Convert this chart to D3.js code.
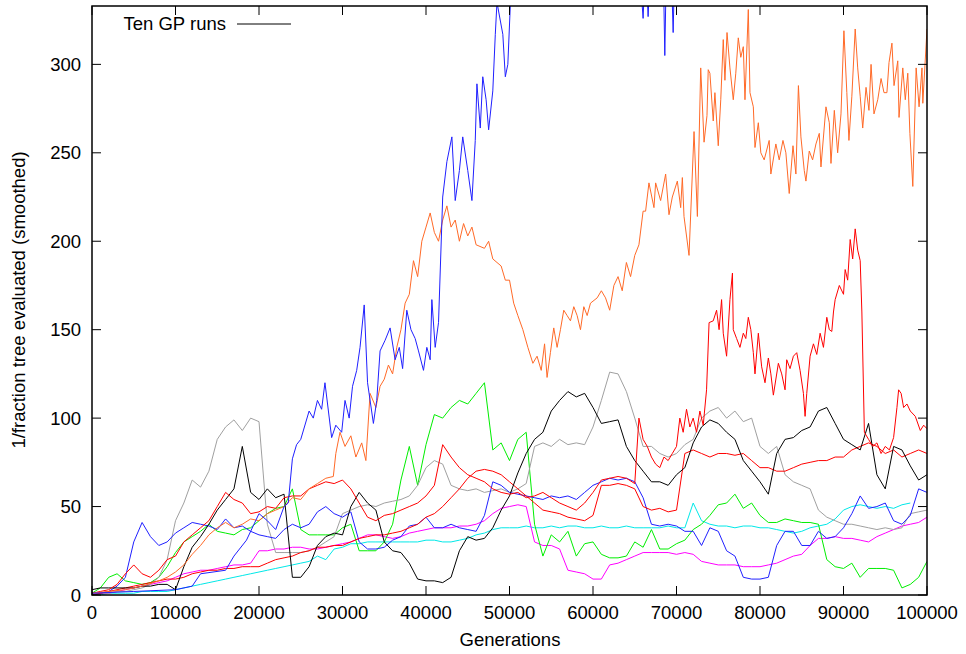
<!DOCTYPE html>
<html><head><meta charset="utf-8">
<script src="https://cdn.jsdelivr.net/npm/d3@7"></script>
<style>
body{margin:0;background:#fff;}
svg text{font-family:"Liberation Sans",Arial,Helvetica,sans-serif;fill:#000;}
</style></head>
<body><svg id="c" width="966" height="654"></svg>
<script>
// ---- axis ticks ----
const xTicks = [0,10000,20000,30000,40000,50000,60000,70000,80000,90000,100000];
const yTicks = [0,50,100,150,200,250,300];
const xLabel = "Generations";
const yLabel = "1/fraction tree evaluated (smoothed)";
const legendLabel = "Ten GP runs";

// ---- series sampled every 1000 generations (index = thousands of generations) ----
const cyan = [0,0,1,1,1,1,2,2,2,2,3,4,5,6,7,8,9,10,11,12,13,14,15,16,17,18,19,22,20,26,27,29,29,30,30,30,30,30,30,30,31,31,30,30,31,32,34,35,37,38,38,38,39,38,38,39,38,39,39,38,38,39,38,38,39,38,38,38,38,39,38,38,52,42,40,39,39,38,39,39,38,38,37,36,35,36,38,39,40,43,48,50,51,50,49,50,49,51,52];
const magenta = [0,1,1,2,3,4,5,6,7,8,10,12,13,14,14,15,16,17,17,18,25,25,26,26,27,27,26,26,27,28,29,30,32,34,34,33,32,33,35,36,37,38,38,38,39,39,40,42,46,49,50,51,50,30,28,28,26,14,13,12,9,9,17,18,20,22,24,24,24,24,23,24,23,19,18,17,17,17,16,16,16,17,18,20,22,23,28,32,32,33,32,32,31,30,33,35,37,39,40,41,44];
const blueB = [0,1,2,5,10,30,41,33,28,30,35,38,41,40,39,37,43,38,39,36,34,33,32,37,40,38,40,47,50,46,44,47,30,26,26,27,31,33,39,40,44,38,38,40,38,37,36,45,64,62,58,57,56,55,54,56,55,56,54,58,62,64,66,65,66,64,55,40,39,40,39,36,36,28,38,36,25,22,10,9,9,10,28,36,36,28,28,36,32,33,38,46,56,49,50,52,42,40,45,60,58];
const black = [3,4,4,4,4,4,5,5,6,6,3,16,27,33,40,48,54,60,84,58,54,60,55,57,10,10,16,28,33,35,34,50,58,52,48,30,25,24,18,9,8,8,7,10,25,33,31,32,38,48,56,69,80,88,92,104,110,115,112,114,106,97,98,99,84,76,70,64,64,62,68,72,86,95,99,97,92,88,76,70,64,57,80,88,89,93,95,104,106,97,88,85,82,97,68,60,84,82,73,65,68];
const gray = [0,1,1,2,2,3,4,6,10,20,42,52,65,61,70,88,95,99,93,100,98,40,24,24,24,24,25,27,30,33,46,48,50,51,50,52,53,54,56,62,72,76,74,62,60,59,60,58,59,60,58,60,63,84,86,84,88,85,86,85,95,110,126,125,115,100,84,84,80,78,80,85,88,100,104,106,100,104,98,100,84,80,84,68,64,62,60,48,44,42,40,40,39,38,37,38,37,38,46,47,48];
const green = [1,4,10,12,8,7,6,7,10,16,24,30,33,36,40,36,35,34,37,38,42,46,49,50,60,37,34,34,34,34,38,40,25,25,25,30,40,65,84,62,85,102,100,106,110,108,114,120,82,86,76,88,92,40,22,34,30,36,22,29,30,23,21,21,22,30,27,37,26,26,29,31,37,40,45,51,52,57,49,52,45,41,41,43,42,41,41,40,20,16,15,18,10,15,15,15,14,4,6,10,19];
const redB = [0,1,2,3,4,5,6,7,8,9,9,10,12,13,14,14,15,15,16,16,16,18,20,21,22,24,25,27,27,28,28,30,32,33,34,34,35,36,38,40,44,46,50,55,60,66,70,71,70,68,64,60,56,52,48,47,46,44,43,42,45,62,62,63,62,60,50,48,49,47,48,80,82,80,78,80,80,79,80,76,72,72,70,70,72,74,75,76,76,78,78,82,84,86,84,80,82,78,80,82,80];
const redAEarly = [1,2,3,6,12,17,12,10,14,20,22,30,34,38,42,50,58,54,52,46,47,50,49,55,56,56,60,62,64,63,65,60,52,44,42,45,46,48,50,52,56,62,85,78,72,68,66,64,60,58,57,58,55,56,58,55,52,50,48,52,58,65,66,67,66,63];

// ---- noisy series as [thousands of generations, value] ----
const redALate = [[65,63],[65.5,100],[66,88],[66.5,84],[67,78],[67.5,74],[68,72],[68.5,78],[69,76],[69.5,80],[70,84],[70.4,100],[70.8,92],[71.2,105],[71.6,95],[72,100],[72.4,92],[72.8,104],[73.2,96],[73.6,116],[73.9,154],[74.4,155],[74.8,161],[75.1,150],[75.4,167],[75.6,148],[76,135],[76.4,167],[76.7,182],[76.8,150],[77.2,145],[77.6,140],[78,148],[78.3,145],[78.6,157],[78.9,150],[79.2,137],[79.4,125],[79.8,148],[80.2,129],[80.6,120],[81,134],[81.3,125],[81.6,113],[82.2,131],[82.6,125],[83,116],[83.2,133],[83.6,128],[84,135],[84.4,137],[84.8,127],[85.2,114],[85.4,101],[85.6,114],[86,135],[86.4,142],[86.8,136],[87.2,148],[87.6,140],[88,157],[88.3,150],[88.6,149],[88.8,160],[89,167],[89.5,175],[90,170],[90.2,184],[90.5,178],[90.8,201],[91.1,190],[91.4,207],[91.7,195],[92,189],[92.2,160],[92.5,92],[93,88],[93.5,84],[94,86],[94.5,80],[95,84],[95.5,82],[96,89],[96.4,106],[96.6,116],[96.9,114],[97.2,106],[97.6,108],[98,104],[98.6,101],[99.2,93],[99.6,96],[100,94]];
const blueA = [[0,1],[5,2],[10,3],[12,5],[13,12],[16,14],[17,22],[18.5,31],[20,46],[21,42],[22,37],[23,50],[23.5,52],[24,77],[24.5,85],[25,88],[26,104],[26.5,100],[27,110],[27.5,105],[27.9,120],[28.7,89],[29.2,96],[29.9,92],[30.3,110],[30.8,100],[31.2,118],[31.7,127],[32.1,140],[32.6,164],[33,120],[33.7,97],[34.1,110],[34.5,138],[35.1,144],[35.7,151],[36.3,133],[36.8,140],[37.2,128],[37.7,161],[38.2,150],[38.7,145],[39.1,138],[39.7,127],[40.1,140],[40.5,133],[40.7,167],[41.1,140],[41.5,154],[42,225],[42.5,245],[43.1,259],[43.5,223],[44,240],[44.4,259],[45,240],[45.5,223],[45.9,257],[46.1,289],[46.5,264],[46.8,293],[47.2,280],[47.5,263],[48,285],[48.3,317],[48.5,335],[49.2,317],[49.5,293],[49.8,300],[50.2,345],[52,380],[65.5,360],[66,326],[66.3,360],[66.6,327],[67,370],[68.4,360],[68.6,305],[68.8,360],[69.4,350],[69.6,318],[69.8,360],[71,400],[100,400]];
const orange = [[0,1],[2,2],[4,3],[6,5],[8,8],[9,10],[10,13],[11,17],[12,23],[13,28],[14,34],[15,38],[16,41],[17,38],[18,40],[19,43],[20,42],[21,46],[22,48],[23,50],[24,55],[25,54],[26,60],[27,63],[28,66],[28.9,67],[29.2,80],[29.7,92],[30.3,84],[31,90],[31.6,78],[32.3,86],[32.8,76],[33.3,114],[34,106],[34.5,118],[35,122],[35.5,130],[36,125],[36.5,140],[37,150],[37.5,165],[38,170],[38.5,189],[39,180],[39.5,200],[40,208],[40.5,216],[41,205],[41.5,200],[42,212],[42.5,220],[43,208],[43.5,212],[44,200],[44.5,210],[45,203],[45.5,208],[46,198],[47,196],[47.5,200],[48,190],[49,186],[49.5,178],[50,178],[50.5,165],[51,158],[51.6,150],[52.2,140],[52.8,131],[53.3,135],[53.8,127],[54.2,142],[54.5,123],[54.9,137],[55.3,151],[55.7,140],[56.1,150],[56.5,161],[56.9,158],[57.3,155],[57.7,163],[58.1,158],[58.5,150],[58.9,163],[59.3,158],[59.7,165],[60.5,168],[61,172],[61.5,168],[62,161],[62.5,175],[63,180],[63.5,172],[64,188],[64.5,180],[65,192],[65.5,198],[66,217],[66.3,217],[66.7,233],[67.3,219],[67.5,233],[68.1,223],[68.7,238],[69.1,215],[69.5,225],[70.1,234],[70.5,219],[70.7,236],[70.9,214],[71.5,192],[72.1,262],[72.5,214],[72.9,298],[73.3,256],[73.65,271],[73.8,297],[74,295],[74.4,268],[74.6,284],[75,254],[75.3,280],[75.6,314],[75.8,291],[76.05,318],[76.4,298],[76.8,280],[77.1,295],[77.4,315],[77.7,304],[78,310],[78.2,280],[78.6,331],[78.8,284],[79.2,276],[79.4,253],[79.8,267],[80.1,250],[80.5,246],[81.1,257],[81.3,238],[81.9,255],[82.3,246],[82.75,257],[83.1,250],[83.5,227],[83.95,254],[84.3,238],[84.6,288],[84.9,259],[85.3,240],[85.5,234],[85.9,251],[86.3,246],[86.7,255],[87.1,261],[87.3,242],[87.9,276],[88.3,267],[88.5,244],[88.9,274],[89.3,250],[89.7,272],[90.05,319],[90.4,284],[90.65,257],[91,282],[91.4,320],[91.7,298],[92,282],[92.3,264],[92.7,287],[93.05,274],[93.3,300],[93.65,272],[94.1,280],[94.5,292],[94.85,284],[95.2,284],[95.45,301],[95.8,312],[96.05,288],[96.5,302],[96.65,270],[97.1,298],[97.4,280],[97.7,295],[97.95,261],[98.3,231],[98.7,298],[99.05,276],[99.4,298],[99.5,278],[100,320]];

const colors = {cyan:"#00e8e8", magenta:"#ff00ff", blueB:"#2020ff", black:"#000000", gray:"#a0a0a0", green:"#00ee00", redB:"#ff0000", redA:"#ff0000", blueA:"#2020ff", orange:"#ff6a28"};

// ---- layout ----
const svg = d3.select("#c");
const L = 92, R = 927, T = 6, B = 595;
const x = d3.scaleLinear().domain([0,100000]).range([L,R]);
const y = d3.scaleLinear().domain([0,333]).range([B,T]);

svg.append("defs").append("clipPath").attr("id","clip")
  .append("rect").attr("x",L).attr("y",T).attr("width",R-L).attr("height",B-T);

const gridSeries = (arr) => arr.map((v,i)=>[i,v]);
const line = d3.line().x(d=>x(d[0]*1000)).y(d=>y(d[1]));

const series = [
  ["cyan", gridSeries(cyan)],
  ["magenta", gridSeries(magenta)],
  ["green", gridSeries(green)],
  ["gray", gridSeries(gray)],
  ["blueB", gridSeries(blueB)],
  ["redB", gridSeries(redB)],
  ["black", gridSeries(black)],
  ["redA", gridSeries(redAEarly).concat(redALate.slice(1))],
  ["orange", orange],
  ["blueA", blueA]
];

const g = svg.append("g").attr("clip-path","url(#clip)");
series.forEach(([name,data])=>{
  g.append("path").attr("d",line(data)).attr("fill","none")
   .attr("stroke",colors[name]).attr("stroke-width",1).attr("stroke-linejoin","round");
});

// ---- frame and ticks (gnuplot style: inward, mirrored) ----
const tl = 9, fs = 18.5;
const ax = svg.append("g");
xTicks.forEach(t=>{
  ax.append("line").attr("x1",x(t)).attr("x2",x(t)).attr("y1",B).attr("y2",B-tl).attr("stroke","#000");
  ax.append("line").attr("x1",x(t)).attr("x2",x(t)).attr("y1",T).attr("y2",T+tl).attr("stroke","#000");
  ax.append("text").attr("x",x(t)).attr("y",619).attr("text-anchor","middle").attr("font-size",fs).text(t);
});
yTicks.forEach(t=>{
  ax.append("line").attr("x1",L).attr("x2",L+tl).attr("y1",y(t)).attr("y2",y(t)).attr("stroke","#000");
  ax.append("line").attr("x1",R).attr("x2",R-tl).attr("y1",y(t)).attr("y2",y(t)).attr("stroke","#000");
  ax.append("text").attr("x",81).attr("y",y(t)+6.5).attr("text-anchor","end").attr("font-size",fs).text(t);
});
ax.append("rect").attr("x",L).attr("y",T).attr("width",R-L).attr("height",B-T)
  .attr("fill","none").attr("stroke","#000").attr("stroke-width",1.5);

svg.append("text").attr("x",510).attr("y",646).attr("text-anchor","middle").attr("font-size",fs).text(xLabel);
svg.append("text").attr("transform","translate(25,300) rotate(-90)").attr("text-anchor","middle").attr("font-size",fs).text(yLabel);

// legend
svg.append("text").attr("x",226).attr("y",30).attr("text-anchor","end").attr("font-size",fs).text(legendLabel);
svg.append("line").attr("x1",237).attr("x2",291).attr("y1",24).attr("y2",24).attr("stroke","#000");
</script></body></html>
